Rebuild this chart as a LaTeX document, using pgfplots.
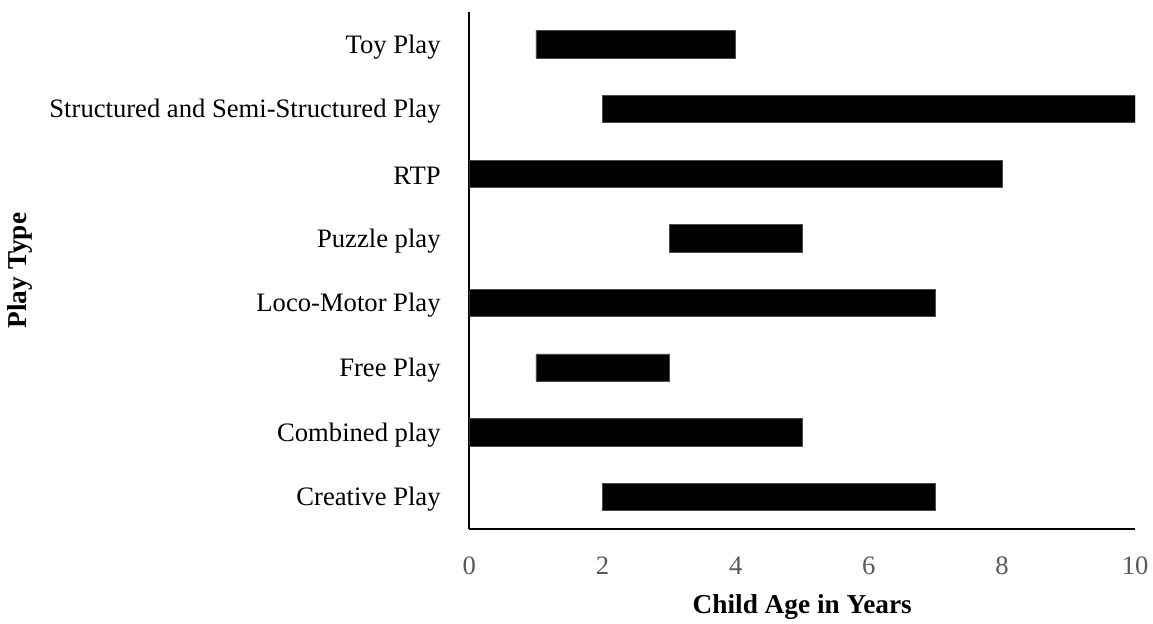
\documentclass[border=0pt]{standalone}
\usepackage{fontspec}
\setmainfont{Liberation Serif}
\usepackage{pgfplots}
\pgfplotsset{compat=1.18}
\definecolor{tickgray}{HTML}{595959}
\begin{document}
\begin{tikzpicture}
\begin{axis}[
  name=ax,
  scale only axis,
  width=500.25pt, height=388.5pt,
  xbar stacked,
  bar width=0.42,
  xmin=0, xmax=10, ymin=-0.5, ymax=7.5,
  enlargelimits=false,
  axis x line=bottom, axis y line=left,
  axis line style={-, line width=1.5pt},
  xtick={0,2,4,6,8,10},
  ytick={0,1,2,3,4,5,6,7},
  yticklabels={Creative Play, Combined play, Free Play, Loco-Motor Play, Puzzle play, RTP, Structured and Semi-Structured Play, Toy Play},
  major tick length=0pt,
  tick label style={font=\fontsize{20}{24}\selectfont},
  xticklabel style={text=tickgray, yshift=-17pt},
  yticklabel style={anchor=east, xshift=-18pt, yshift=-2pt},
  /pgf/number format/assume math mode=true,
  xlabel={Child Age in Years},
  ylabel={Play Type},
  label style={font=\fontsize{20.5}{24}\selectfont\bfseries},
  xlabel style={at={(axis description cs:0.5,-0.1505)}, anchor=center},
  ylabel style={at={(axis description cs:-0.6747,0.5)}, anchor=center, rotate=0},
]
\addplot[draw=none, fill=none] coordinates {(2,0) (0,1) (1,2) (0,3) (3,4) (0,5) (2,6) (1,7)};
\addplot[fill=black, draw=black!70] coordinates {(5,0) (5,1) (2,2) (7,3) (2,4) (8,5) (8,6) (3,7)};
\end{axis}
\path ([xshift=-352.5pt, yshift=-69.75pt]ax.south west) rectangle ([xshift=12pt, yshift=9pt]ax.north east);
\end{tikzpicture}
\end{document}
